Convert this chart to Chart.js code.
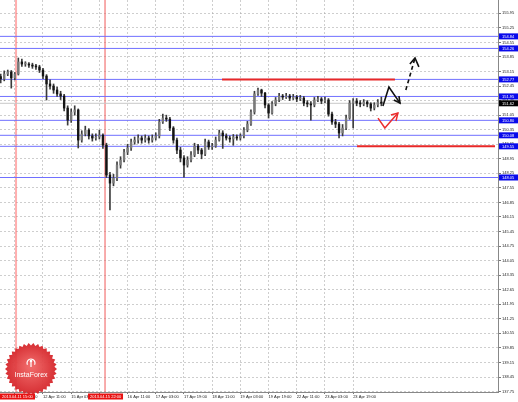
<!DOCTYPE html>
<html>
<head>
<meta charset="utf-8">
<script src="https://cdn.jsdelivr.net/npm/chart.js@4.4.1/dist/chart.umd.min.js"></script>
<style>
  html, body { margin: 0; padding: 0; background: #fff; }
</style>
</head>
<body>
<canvas id="priceChart" width="518" height="402"></canvas>
<script>
// 2-hour candles, x = hours since 11 Apr 11:00 (weekend skipped)
const firstOpen = 152.90;
const closes = [
  152.79,153.03,153.13,152.84,153.03,153.61,153.51,153.51,153.46,153.41,
  153.37,153.22,152.93,152.55,152.45,152.26,152.07,151.97,151.39,150.81,
  151.20,151.30,149.85,150.14,150.33,150.05,149.95,150.00,150.09,149.61,
  148.17,147.78,148.02,148.65,148.89,149.27,149.47,149.76,149.85,149.95,
  149.85,149.95,149.85,149.95,150.05,150.72,150.91,150.86,150.43,149.85,
  149.37,148.99,148.65,148.89,149.13,149.56,149.37,149.18,149.76,149.52,
  149.56,149.85,150.19,150.05,149.95,149.90,150.00,149.95,150.05,150.33,
  150.62,151.20,152.07,152.26,152.11,151.54,151.15,151.59,151.78,151.97,
  151.92,151.97,151.87,151.92,151.83,151.87,151.63,151.59,151.54,151.78,
  151.83,151.73,151.78,151.10,150.72,150.62,150.19,150.43,150.91,151.63,
  151.73,151.63,151.59,151.68,151.59,151.39,151.54,151.68,151.62
];
const highs = [
  153.03,153.18,153.22,153.20,153.10,153.80,153.75,153.62,153.58,153.55,
  153.50,153.45,153.30,153.00,152.75,152.55,152.40,152.20,152.05,151.50,
  151.35,151.50,151.35,150.30,150.52,150.40,150.15,150.15,150.33,150.15,
  149.70,148.30,148.20,148.80,149.05,149.40,149.65,149.90,150.00,150.10,
  150.05,150.10,150.05,150.10,150.20,150.85,151.10,151.05,150.95,150.50,
  149.95,149.50,149.10,149.05,149.30,149.70,149.65,149.45,149.90,149.85,
  149.70,150.00,150.33,150.30,150.15,150.05,150.12,150.10,150.15,150.45,
  150.75,151.30,152.20,152.35,152.30,152.15,151.60,151.70,151.90,152.10,
  152.05,152.10,152.05,152.05,152.00,152.00,151.95,151.75,151.70,151.90,
  151.95,151.90,151.92,151.85,151.20,150.85,150.70,150.60,151.05,151.75,
  151.85,151.85,151.75,151.80,151.75,151.65,151.65,151.80,151.92
];
const lows = [
  152.60,152.70,152.95,152.35,152.75,152.98,153.40,153.40,153.35,153.30,
  153.25,153.10,152.80,151.78,152.30,152.10,151.95,151.80,151.25,150.57,
  150.70,151.05,149.47,149.75,150.05,149.90,149.80,149.85,149.90,149.45,
  148.05,146.49,147.65,147.90,148.50,148.80,149.15,149.35,149.65,149.70,
  149.70,149.75,149.70,149.75,149.85,149.95,150.65,150.75,150.30,149.70,
  149.20,148.80,148.07,148.55,148.80,149.05,149.20,148.95,149.10,149.40,
  149.40,149.50,149.80,149.45,149.85,149.75,149.60,149.85,149.85,149.95,
  150.25,150.55,151.10,152.00,151.95,151.40,150.91,151.10,151.50,151.70,
  151.80,151.85,151.75,151.80,151.70,151.75,151.50,151.45,150.81,151.45,
  151.70,151.60,151.65,151.00,150.60,150.45,149.95,150.05,150.35,150.85,
  150.43,151.50,151.45,151.50,151.45,151.25,151.30,151.45,151.50
];
const candleStep = 2;

const xTickHours = [8, 24, 40, 56, 72, 88, 104, 120, 136, 152, 168, 184, 200];
const xTickLabels = ['11 Apr 19:00', '12 Apr 11:00', '15 Apr 03:00', '15 Apr 19:00', '16 Apr 11:00',
  '17 Apr 03:00', '17 Apr 19:00', '18 Apr 11:00', '19 Apr 03:00', '19 Apr 19:00',
  '22 Apr 11:00', '23 Apr 03:00', '23 Apr 19:00'];
const yTicks = [137.75, 138.45, 139.15, 139.85, 140.55, 141.25, 141.95, 142.65, 143.35, 144.05,
  144.75, 145.45, 146.15, 146.85, 147.55, 148.25, 148.95, 149.65, 150.35, 151.05,
  151.75, 152.45, 153.15, 153.85, 154.55, 155.25, 155.95];

const xMin = -0.4, xMax = 282.2;
const yMin = 137.73, yMax = 156.59;

const blueLevels = [154.84, 154.26, 152.77, 151.95, 150.80, 150.08, 149.55, 148.05];
const blueLevelEnds = [xMax, xMax, xMax, xMax, xMax, xMax, 202.2, xMax];
const lastPrice = 151.62;
const redLevels = [152.77, 149.55];
const redLevelFrom = [125.6, 202.2];
const redLevelTo = [223.7, 280.5];

const vLineHours = [8.7, 59.2];
const vLineLabels = ['2013.04.11 15:00', '2013.04.15 22:00'];

// hand-drawn forecast arrows (hour, price)
const blackWave = [[216.9, 151.49], [220.3, 152.40], [226.6, 151.63]];
const blackWaveHead = [[223.1, 151.78], [226.6, 151.63], [226.0, 151.97]];
const blackDash = [[229.9, 152.26], [235.1, 153.80]];
const blackDashHead = [[232.2, 153.51], [235.1, 153.80], [237.3, 153.37]];
const redWave = [[214.1, 150.91], [218.0, 150.43], [225.4, 151.15]];
const redWaveHead = [[221.4, 151.06], [225.4, 151.15], [224.3, 150.77]];

const opens = [firstOpen].concat(closes.slice(0, -1));
const toXY = pts => pts.map(p => ({ x: p[0], y: p[1] }));

function lineSet(points, color, width, dash, order) {
  return {
    type: 'line', data: points, borderColor: color, borderWidth: width,
    borderDash: dash || [], pointRadius: 0, fill: false, tension: 0, order: order
  };
}

const datasets = [];
datasets.push({
  type: 'bar', label: 'wick', order: 1, grouped: false, barThickness: 1,
  data: closes.map((c, i) => ({ x: i * candleStep, y: [lows[i], highs[i]] })),
  backgroundColor: '#3c3c3c'
});
datasets.push({
  type: 'bar', label: 'body', order: 0, grouped: false, barThickness: 1.7, minBarLength: 1,
  data: closes.map((c, i) => ({ x: i * candleStep, y: [opens[i], c] })),
  backgroundColor: closes.map((c, i) => c >= opens[i] ? '#7a7a7a' : '#141414')
});
datasets.push(lineSet([{ x: xMin, y: lastPrice }, { x: xMax, y: lastPrice }], '#c8c8c8', 1, null, 9));
blueLevels.forEach((v, i) => {
  datasets.push(lineSet([{ x: xMin, y: v }, { x: blueLevelEnds[i], y: v }], 'rgb(112,112,255)', 1, null, 8));
});
redLevels.forEach((v, i) => {
  datasets.push(lineSet([{ x: redLevelFrom[i], y: v }, { x: redLevelTo[i], y: v }], 'rgb(232,40,40)', 2, null, 7));
});
datasets.push(lineSet([{ x: vLineHours[0], y: yMin }, { x: vLineHours[0], y: yMax }], 'rgba(255,110,110,0.55)', 2, null, 10));
datasets.push(lineSet([{ x: vLineHours[1], y: yMin }, { x: vLineHours[1], y: yMax }], 'rgb(240,90,90)', 1, null, 10));
datasets.push(lineSet(toXY(blackWave), '#111', 1.6, null, -1));
datasets.push(lineSet(toXY(blackWaveHead), '#111', 1.6, null, -1));
datasets.push(lineSet(toXY(blackDash), '#111', 1.6, [4, 3], -1));
datasets.push(lineSet(toXY(blackDashHead), '#111', 1.6, null, -1));
datasets.push(lineSet(toXY(redWave), 'rgb(235,45,45)', 1.5, null, -1));
datasets.push(lineSet(toXY(redWaveHead), 'rgb(235,45,45)', 1.5, null, -1));

function drawBadge(ctx, cx, cy) {
  ctx.save();
  ctx.beginPath();
  const n = 34;
  for (let i = 0; i < n * 2; i++) {
    const r = i % 2 ? 23.5 : 26;
    const a = i * Math.PI / n;
    ctx.lineTo(cx + r * Math.cos(a), cy + r * Math.sin(a));
  }
  ctx.closePath();
  const g = ctx.createRadialGradient(cx, cy - 3, 3, cx, cy, 26);
  g.addColorStop(0, 'rgba(238,95,95,0.95)');
  g.addColorStop(1, 'rgba(212,35,40,0.95)');
  ctx.fillStyle = g;
  ctx.fill();
  // small emblem
  ctx.strokeStyle = '#fff';
  ctx.fillStyle = '#fff';
  ctx.lineWidth = 1.2;
  ctx.beginPath();
  ctx.arc(cx, cy - 6, 4, Math.PI * 0.15, Math.PI * 0.85, true);
  ctx.stroke();
  ctx.beginPath();
  ctx.arc(cx, cy - 8, 1.3, 0, Math.PI * 2);
  ctx.fill();
  ctx.fillRect(cx - 0.6, cy - 7, 1.2, 5);
  ctx.font = '7px "Liberation Sans", Arial, sans-serif';
  ctx.textAlign = 'center';
  ctx.textBaseline = 'middle';
  ctx.fillText('InstaForex', cx, cy + 6);
  ctx.restore();
}

const decor = {
  id: 'decor',
  afterDraw(chart) {
    const ctx = chart.ctx;
    const xs = chart.scales.x, ys = chart.scales.y;
    ctx.save();
    ctx.font = '4px "Liberation Sans", Arial, sans-serif';
    ctx.textBaseline = 'middle';
    ctx.textAlign = 'left';
    // level boxes on the price axis
    blueLevels.forEach(v => {
      const y = ys.getPixelForValue(v);
      ctx.fillStyle = 'rgb(10,10,235)';
      ctx.fillRect(xs.right + 1, y - 3, 19, 6);
      ctx.fillStyle = '#fff';
      ctx.fillText(v.toFixed(2), xs.right + 4, y + 0.3);
    });
    const yp = ys.getPixelForValue(lastPrice);
    ctx.fillStyle = '#000';
    ctx.fillRect(xs.right + 1, yp - 3, 19, 6);
    ctx.fillStyle = '#fff';
    ctx.fillText(lastPrice.toFixed(2), xs.right + 4, yp + 0.3);
    // vertical line date boxes
    vLineHours.forEach((h, i) => {
      const cx = xs.getPixelForValue(h);
      const left = Math.max(0, cx - 17);
      ctx.fillStyle = 'rgb(232,18,18)';
      ctx.fillRect(left, ys.bottom + 1.5, 35, 6);
      ctx.fillStyle = '#fff';
      ctx.fillText(vLineLabels[i], left + 2, ys.bottom + 4.8);
    });
    ctx.restore();
    drawBadge(ctx, 31, 369);
  }
};

new Chart(document.getElementById('priceChart').getContext('2d'), {
  type: 'bar',
  data: { datasets: datasets },
  options: {
    responsive: false,
    animation: false,
    devicePixelRatio: 1,
    layout: { padding: 0 },
    plugins: { legend: { display: false }, tooltip: { enabled: false } },
    scales: {
      x: {
        type: 'linear', min: xMin, max: xMax, offset: false,
        afterBuildTicks: s => { s.ticks = xTickHours.map(v => ({ value: v })); },
        afterFit: s => { s.height = 10; s.paddingLeft = 0; s.paddingRight = 0; },
        ticks: {
          autoSkip: false, maxRotation: 0, align: 'start', padding: 0,
          color: '#222', font: { size: 4, family: 'Liberation Sans' },
          callback: (v, i) => xTickLabels[i]
        },
        grid: { color: 'rgba(165,165,165,0.55)', tickLength: 2, tickColor: '#777', offset: false },
        border: { color: '#888', dash: [2, 2] }
      },
      y: {
        position: 'right', min: yMin, max: yMax, beginAtZero: false,
        afterBuildTicks: s => { s.ticks = yTicks.map(v => ({ value: v })); },
        afterFit: s => { s.width = 20; s.paddingTop = 0; s.paddingBottom = 0; },
        ticks: {
          padding: 1, color: '#222', font: { size: 4, family: 'Liberation Sans' },
          callback: v => v.toFixed(2)
        },
        grid: { color: 'rgba(165,165,165,0.55)', tickLength: 3, tickColor: '#777' },
        border: { color: '#888', dash: [2, 2] }
      }
    }
  },
  plugins: [decor]
});
</script>
</body>
</html>
